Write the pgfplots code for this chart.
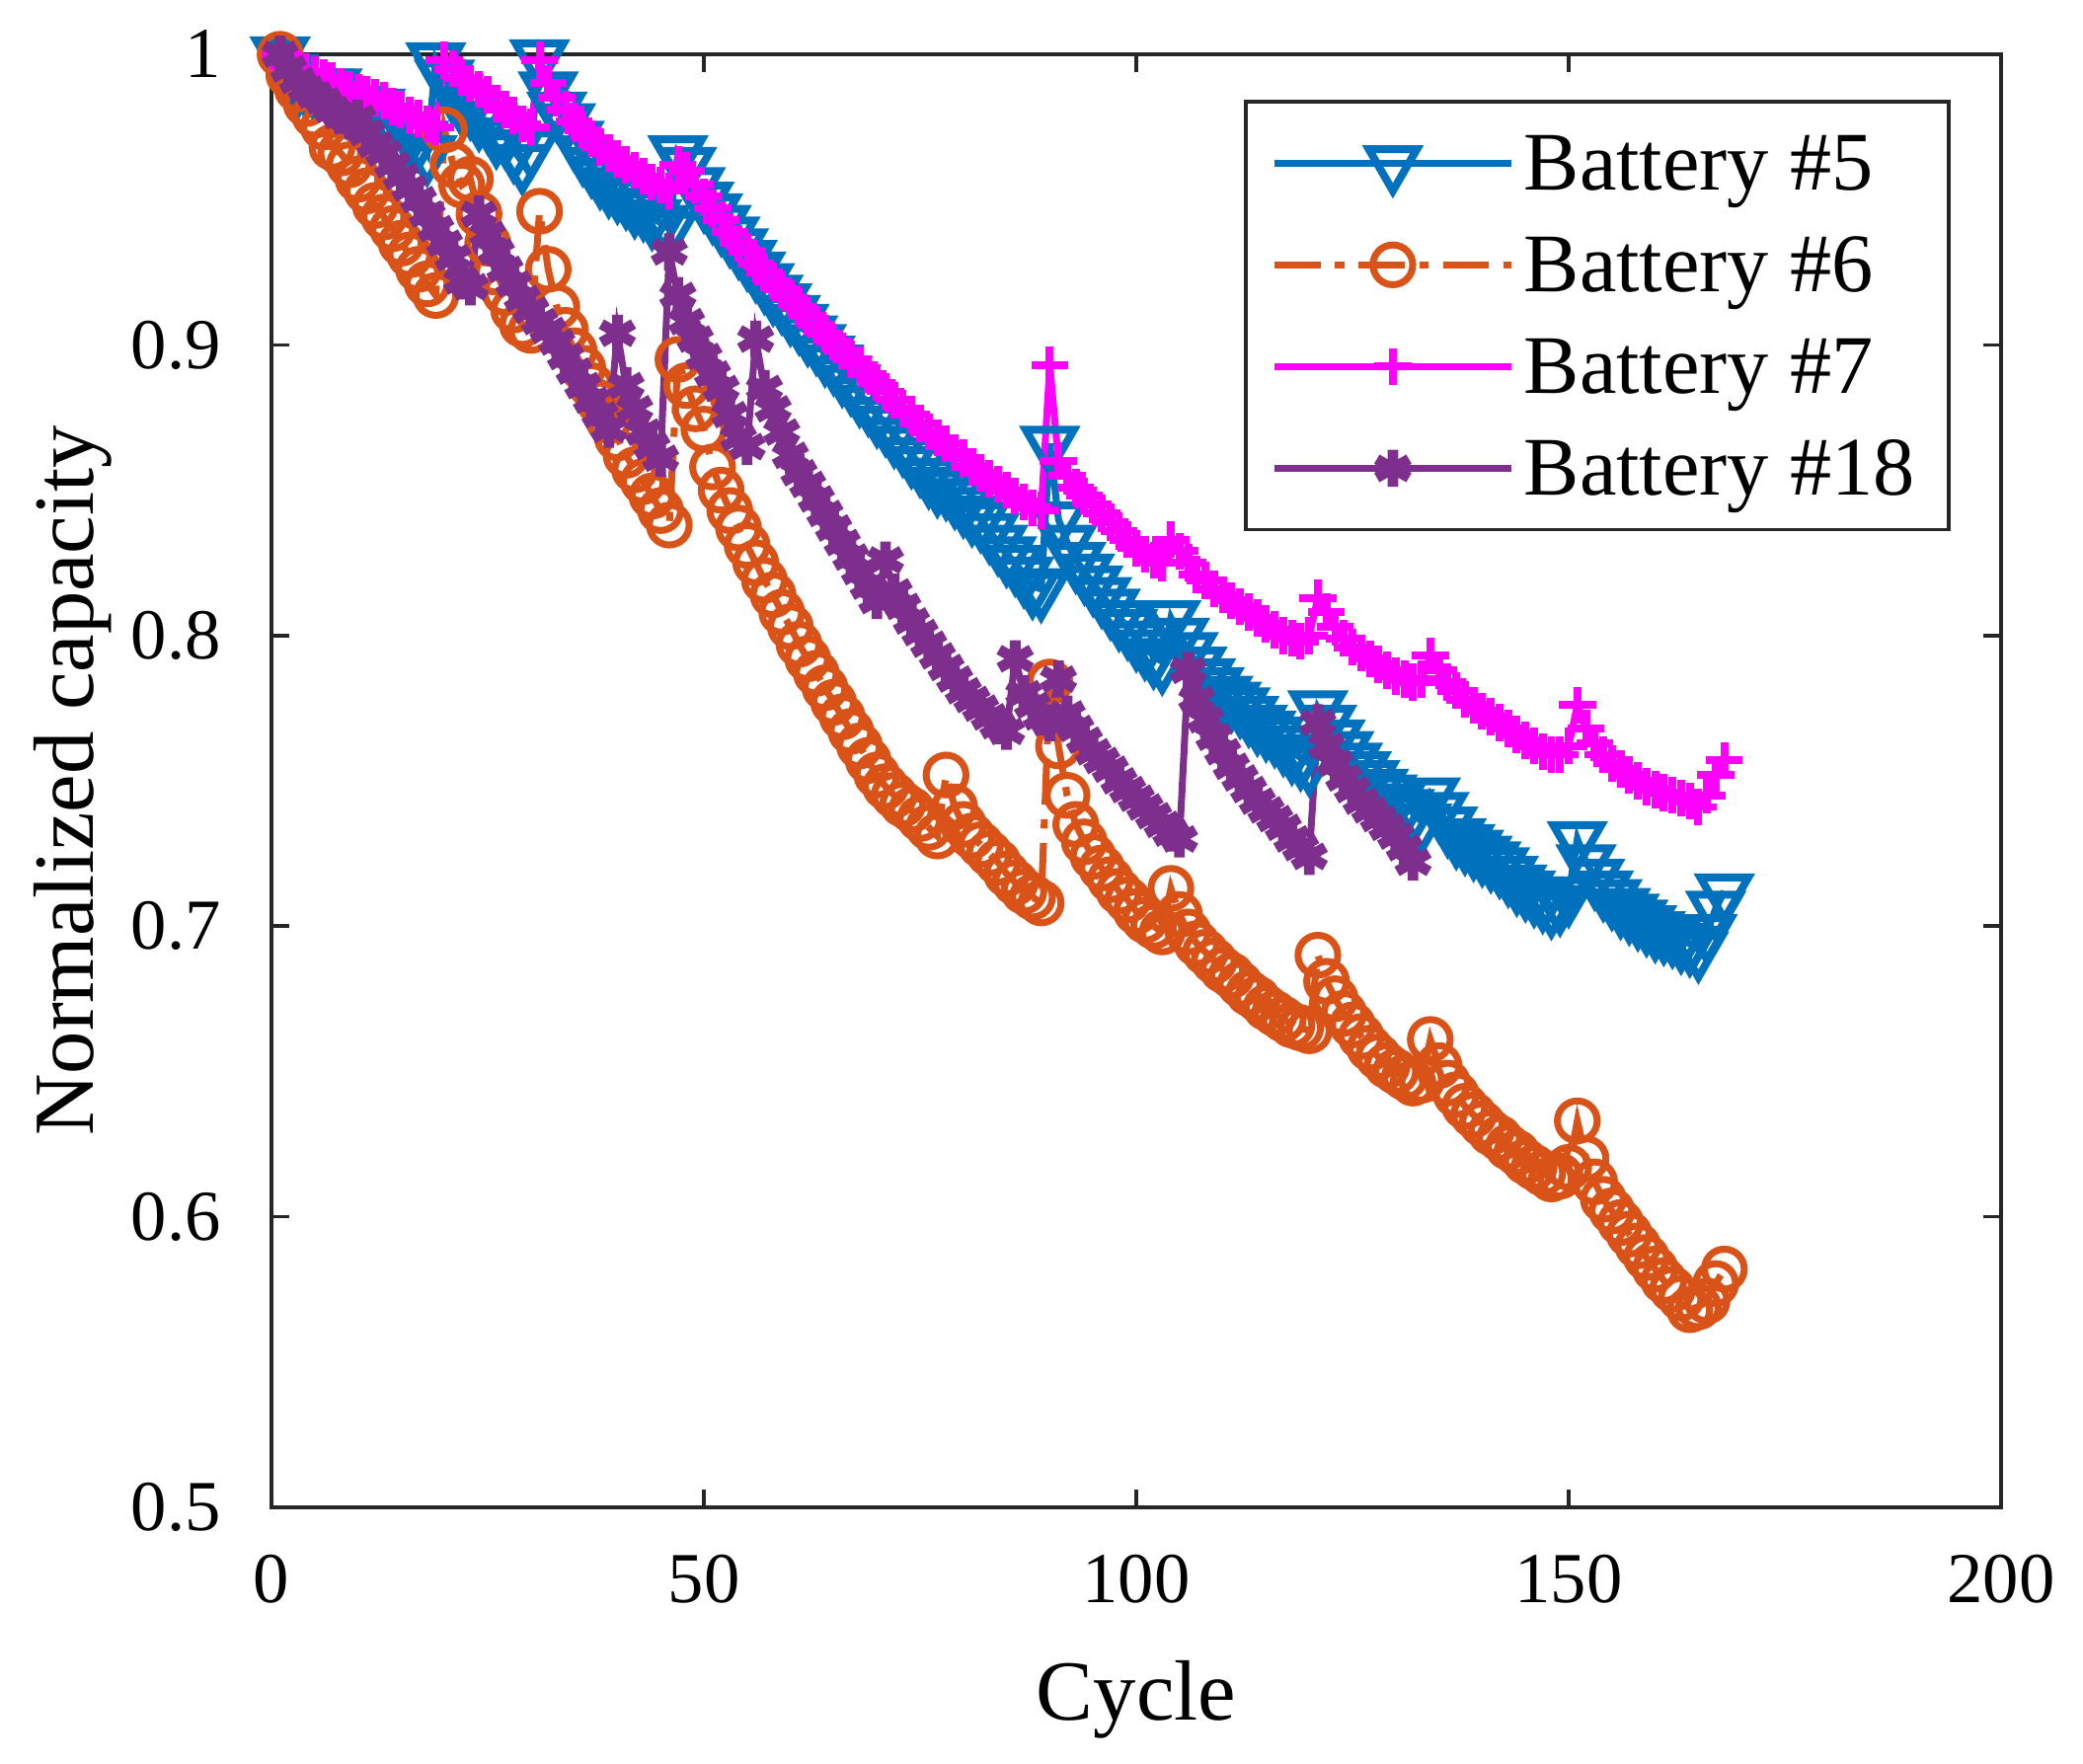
\documentclass[border=0pt]{standalone}
\usepackage{pgfplots}
\pgfplotsset{compat=1.18}
\usepackage{fontspec}
\setmainfont{Liberation Serif}

\definecolor{mblue}{HTML}{0072BD}
\definecolor{morange}{HTML}{D95319}
\definecolor{mmagenta}{HTML}{FF00FF}
\definecolor{mpurple}{HTML}{7E2F8E}
\definecolor{axgray}{HTML}{262626}

\begin{document}
\begin{tikzpicture}
\begin{axis}[
    scale only axis,
    width=13.14cm, height=11.04cm,
    xmin=0, xmax=200,
    ymin=0.5, ymax=1,
    xtick={0,50,100,150,200},
    ytick={0.5,0.6,0.7,0.8,0.9,1},
    yticklabels={0.5,0.6,0.7,0.8,0.9,1},
    /pgf/number format/assume math mode=true,
    tick label style={font=\fontsize{15.5}{18}\selectfont, text=black},
    xticklabel style={yshift=-0.24cm},
    yticklabel style={xshift=-0.26cm},
    major tick length=0.135cm,
    axis line style={axgray, line width=0.8pt},
    every tick/.style={axgray, line width=0.8pt},
    xlabel={Cycle},
    ylabel={Normalized capacity},
    label style={font=\fontsize{18.5}{22}\selectfont},
    xlabel style={at={(axis description cs:0.5,-0.1325)}, anchor=center},
    ylabel style={at={(axis description cs:-0.1147,0.5)}, anchor=center},
    clip=false,
    legend style={at={(0.971,0.9686)}, anchor=north east,
        draw=axgray, line width=0.8pt,
        font=\fontsize{18}{21}\selectfont,
        inner xsep=0.19cm, inner ysep=0.139cm,
        row sep=3.4pt,
        nodes={inner ysep=0pt, inner xsep=0.07cm, text height=15.1pt, text depth=3.5pt}},
    legend cell align=left,
    legend image code/.code={
        \draw[mark repeat=2,mark phase=2,#1] plot coordinates {(0cm,0cm) (0.9cm,0cm) (1.8cm,0cm)};
    },
]

% Battery #5
\addplot[color=mblue, line width=1.5pt, mark=triangle, mark size=6pt,
    mark options={solid, rotate=180, line width=1.7pt}]
coordinates {
(1,1.000)(2,0.994)(3,0.989)(4,0.989)(5,0.988)(6,0.989)(7,0.989)(8,0.983)(9,0.983)(10,0.983)
(11,0.982)(12,0.982)(13,0.977)(14,0.976)(15,0.971)(16,0.972)(17,0.971)(18,0.966)(19,0.998)(20,0.992)
(21,0.987)(22,0.983)(23,0.982)(24,0.978)(25,0.977)(26,0.972)(27,0.972)(28,0.967)(29,0.963)(30,0.968)
(31,0.999)(32,0.988)(33,0.981)(34,0.977)(35,0.971)(36,0.966)(37,0.962)(38,0.958)(39,0.955)(40,0.953)
(41,0.951)(42,0.948)(43,0.947)(44,0.944)(45,0.942)(46,0.940)(47,0.966)(48,0.962)(49,0.955)(50,0.950)
(51,0.946)(52,0.942)(53,0.938)(54,0.934)(55,0.930)(56,0.926)(57,0.922)(58,0.918)(59,0.915)(60,0.911)
(61,0.908)(62,0.904)(63,0.901)(64,0.897)(65,0.894)(66,0.890)(67,0.887)(68,0.883)(69,0.880)(70,0.876)
(71,0.873)(72,0.869)(73,0.866)(74,0.862)(75,0.859)(76,0.855)(77,0.852)(78,0.851)(79,0.848)(80,0.845)
(81,0.842)(82,0.840)(83,0.836)(84,0.832)(85,0.828)(86,0.825)(87,0.821)(88,0.817)(89,0.816)(90,0.866)
(91,0.840)(92,0.832)(93,0.826)(94,0.822)(95,0.818)(96,0.814)(97,0.810)(98,0.806)(99,0.803)(100,0.799)
(101,0.796)(102,0.793)(103,0.791)(104,0.806)(105,0.800)(106,0.795)(107,0.790)(108,0.786)(109,0.783)(110,0.780)
(111,0.778)(112,0.776)(113,0.773)(114,0.770)(115,0.768)(116,0.766)(117,0.763)(118,0.760)(119,0.758)(120,0.756)
(121,0.775)(122,0.770)(123,0.765)(124,0.761)(125,0.757)(126,0.754)(127,0.751)(128,0.748)(129,0.746)(130,0.743)
(131,0.741)(132,0.739)(133,0.736)(134,0.745)(135,0.740)(136,0.735)(137,0.731)(138,0.729)(139,0.727)(140,0.725)
(141,0.723)(142,0.721)(143,0.718)(144,0.715)(145,0.713)(146,0.711)(147,0.709)(148,0.707)(149,0.708)(150,0.711)
(151,0.730)(152,0.722)(153,0.717)(154,0.713)(155,0.710)(156,0.707)(157,0.705)(158,0.703)(159,0.701)(160,0.699)
(161,0.698)(162,0.697)(163,0.695)(164,0.694)(165,0.692)(166,0.698)(167,0.706)(168,0.712)
};

% Battery #6
\addplot[color=morange, line width=1.5pt, mark=o, mark size=4.3pt,
    dash pattern=on 0.35cm off 0.11cm on 0.07cm off 0.11cm,
    mark options={solid, line width=1.5pt}]
coordinates {
(1,1.000)(2,0.993)(3,0.988)(4,0.983)(5,0.979)(6,0.975)(7,0.968)(8,0.966)(9,0.962)(10,0.957)
(11,0.953)(12,0.948)(13,0.944)(14,0.940)(15,0.935)(16,0.931)(17,0.926)(18,0.921)(19,0.917)(20,0.974)
(21,0.962)(22,0.955)(23,0.957)(24,0.945)(25,0.935)(26,0.925)(27,0.918)(28,0.912)(29,0.907)(30,0.905)
(31,0.946)(32,0.926)(33,0.913)(34,0.905)(35,0.898)(36,0.892)(37,0.886)(38,0.880)(39,0.874)(40,0.868)
(41,0.862)(42,0.857)(43,0.853)(44,0.848)(45,0.843)(46,0.838)(47,0.895)(48,0.886)(49,0.878)(50,0.871)
(51,0.858)(52,0.850)(53,0.843)(54,0.837)(55,0.831)(56,0.825)(57,0.819)(58,0.814)(59,0.808)(60,0.803)
(61,0.797)(62,0.792)(63,0.787)(64,0.782)(65,0.777)(66,0.772)(67,0.767)(68,0.762)(69,0.757)(70,0.752)
(71,0.748)(72,0.745)(73,0.742)(74,0.740)(75,0.737)(76,0.734)(77,0.731)(78,0.752)(79,0.741)(80,0.735)
(81,0.731)(82,0.728)(83,0.725)(84,0.722)(85,0.718)(86,0.715)(87,0.712)(88,0.710)(89,0.708)(90,0.784)
(91,0.762)(92,0.745)(93,0.735)(94,0.729)(95,0.724)(96,0.720)(97,0.716)(98,0.712)(99,0.709)(100,0.705)
(101,0.702)(102,0.700)(103,0.698)(104,0.713)(105,0.704)(106,0.698)(107,0.694)(108,0.691)(109,0.688)(110,0.685)
(111,0.683)(112,0.680)(113,0.677)(114,0.675)(115,0.672)(116,0.670)(117,0.668)(118,0.666)(119,0.665)(120,0.664)
(121,0.690)(122,0.681)(123,0.675)(124,0.670)(125,0.666)(126,0.662)(127,0.658)(128,0.655)(129,0.652)(130,0.650)
(131,0.648)(132,0.646)(133,0.647)(134,0.661)(135,0.652)(136,0.646)(137,0.642)(138,0.638)(139,0.635)(140,0.632)
(141,0.629)(142,0.627)(143,0.624)(144,0.622)(145,0.619)(146,0.617)(147,0.615)(148,0.613)(149,0.614)(150,0.617)
(151,0.633)(152,0.620)(153,0.612)(154,0.606)(155,0.602)(156,0.598)(157,0.594)(158,0.590)(159,0.586)(160,0.582)
(161,0.578)(162,0.575)(163,0.572)(164,0.568)(165,0.569)(166,0.571)(167,0.577)(168,0.582)
};

% Battery #7
\addplot[color=mmagenta, line width=1.5pt, mark=+, mark size=4pt,
    mark options={solid, line width=1.7pt}]
coordinates {
(1,1.000)(2,0.996)(3,0.995)(4,0.994)(5,0.993)(6,0.992)(7,0.991)(8,0.989)(9,0.988)(10,0.987)
(11,0.986)(12,0.985)(13,0.984)(14,0.982)(15,0.981)(16,0.979)(17,0.978)(18,0.976)(19,0.975)(20,0.998)
(21,0.995)(22,0.992)(23,0.990)(24,0.988)(25,0.986)(26,0.983)(27,0.981)(28,0.979)(29,0.976)(30,0.975)
(31,0.998)(32,0.990)(33,0.985)(34,0.981)(35,0.977)(36,0.974)(37,0.971)(38,0.968)(39,0.966)(40,0.964)
(41,0.962)(42,0.960)(43,0.958)(44,0.956)(45,0.955)(46,0.953)(47,0.962)(48,0.960)(49,0.955)(50,0.951)
(51,0.947)(52,0.943)(53,0.939)(54,0.935)(55,0.932)(56,0.928)(57,0.925)(58,0.922)(59,0.919)(60,0.916)
(61,0.913)(62,0.910)(63,0.907)(64,0.904)(65,0.901)(66,0.898)(67,0.895)(68,0.893)(69,0.890)(70,0.887)
(71,0.884)(72,0.881)(73,0.878)(74,0.876)(75,0.873)(76,0.870)(77,0.868)(78,0.866)(79,0.863)(80,0.861)
(81,0.858)(82,0.856)(83,0.854)(84,0.852)(85,0.850)(86,0.848)(87,0.846)(88,0.844)(89,0.843)(90,0.893)
(91,0.860)(92,0.855)(93,0.851)(94,0.848)(95,0.845)(96,0.842)(97,0.839)(98,0.836)(99,0.833)(100,0.830)
(101,0.828)(102,0.826)(103,0.825)(104,0.833)(105,0.829)(106,0.825)(107,0.821)(108,0.819)(109,0.816)(110,0.814)
(111,0.812)(112,0.810)(113,0.808)(114,0.806)(115,0.804)(116,0.802)(117,0.800)(118,0.799)(119,0.798)(120,0.800)
(121,0.813)(122,0.808)(123,0.803)(124,0.799)(125,0.796)(126,0.794)(127,0.792)(128,0.790)(129,0.788)(130,0.786)
(131,0.785)(132,0.784)(133,0.785)(134,0.793)(135,0.788)(136,0.784)(137,0.781)(138,0.778)(139,0.776)(140,0.774)
(141,0.772)(142,0.770)(143,0.768)(144,0.766)(145,0.764)(146,0.762)(147,0.760)(148,0.759)(149,0.759)(150,0.762)
(151,0.776)(152,0.768)(153,0.763)(154,0.759)(155,0.756)(156,0.754)(157,0.752)(158,0.750)(159,0.748)(160,0.747)
(161,0.746)(162,0.745)(163,0.744)(164,0.743)(165,0.741)(166,0.745)(167,0.752)(168,0.757)
};

% Battery #18
\addplot[color=mpurple, line width=1.5pt, mark=asterisk, mark size=4pt,
    mark options={solid, line width=2.3pt}]
coordinates {
(1,1.000)(2,0.995)(3,0.991)(4,0.988)(5,0.986)(6,0.984)(7,0.981)(8,0.979)(9,0.977)(10,0.978)
(11,0.973)(12,0.969)(13,0.966)(14,0.962)(15,0.958)(16,0.954)(17,0.950)(18,0.945)(19,0.940)(20,0.935)
(21,0.930)(22,0.922)(23,0.920)(24,0.945)(25,0.938)(26,0.932)(27,0.926)(28,0.921)(29,0.916)(30,0.912)
(31,0.908)(32,0.905)(33,0.901)(34,0.896)(35,0.891)(36,0.886)(37,0.881)(38,0.876)(39,0.871)(40,0.904)
(41,0.886)(42,0.878)(43,0.870)(44,0.865)(45,0.861)(46,0.932)(47,0.917)(48,0.908)(49,0.902)(50,0.896)
(51,0.890)(52,0.885)(53,0.876)(54,0.868)(55,0.865)(56,0.902)(57,0.885)(58,0.878)(59,0.870)(60,0.862)
(61,0.856)(62,0.852)(63,0.847)(64,0.842)(65,0.837)(66,0.832)(67,0.827)(68,0.822)(69,0.817)(70,0.812)
(71,0.826)(72,0.815)(73,0.810)(74,0.805)(75,0.801)(76,0.797)(77,0.793)(78,0.789)(79,0.785)(80,0.781)
(81,0.778)(82,0.775)(83,0.772)(84,0.769)(85,0.767)(86,0.792)(87,0.780)(88,0.776)(89,0.772)(90,0.770)
(91,0.785)(92,0.773)(93,0.768)(94,0.764)(95,0.760)(96,0.757)(97,0.754)(98,0.750)(99,0.747)(100,0.744)
(101,0.741)(102,0.738)(103,0.735)(104,0.732)(105,0.730)(106,0.788)(107,0.778)(108,0.771)(109,0.765)(110,0.760)
(111,0.755)(112,0.751)(113,0.747)(114,0.743)(115,0.740)(116,0.737)(117,0.734)(118,0.730)(119,0.727)(120,0.724)
(121,0.770)(122,0.762)(123,0.756)(124,0.751)(125,0.747)(126,0.743)(127,0.740)(128,0.737)(129,0.734)(130,0.731)
(131,0.727)(132,0.722)
};

\legend{Battery \#5, Battery \#6, Battery \#7, Battery \#18}
\end{axis}
% page margins round the axis box, as in the reference
\path (current axis.south west) ++(-2.0625cm,-1.9425cm) coordinate (bl);
\path (current axis.north east) ++(0.6225cm,0.4125cm) coordinate (tr);
\path (bl) rectangle (tr);
\end{tikzpicture}
\end{document}
